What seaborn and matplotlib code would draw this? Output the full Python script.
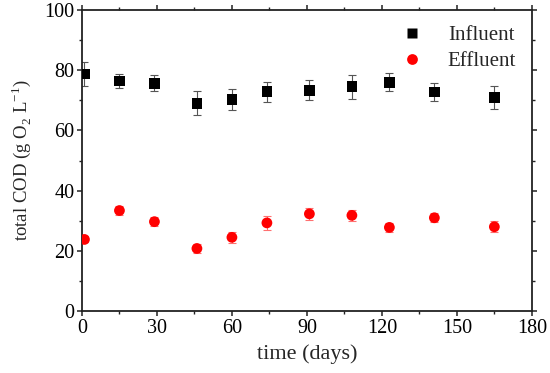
import matplotlib
matplotlib.use("Agg")
import matplotlib.pyplot as plt
import seaborn as sns
import pandas as pd
from matplotlib.ticker import MultipleLocator

days = [1, 15, 29, 46, 60, 74, 91, 108, 123, 141, 165]
influent = [78.8, 76.4, 75.7, 69.0, 70.3, 72.9, 73.4, 74.5, 76.0, 72.8, 71.0]
influent_err = [4.0, 2.3, 2.6, 4.0, 3.5, 3.3, 3.4, 4.0, 3.0, 3.0, 3.7]
effluent = [23.8, 33.4, 29.7, 20.8, 24.5, 29.3, 32.3, 31.8, 27.8, 31.0, 28.0]
effluent_err = [1.0, 1.6, 1.5, 1.6, 1.9, 2.3, 2.1, 1.8, 1.6, 1.5, 1.8]

df = pd.DataFrame({
    "day": days * 2,
    "cod": influent + effluent,
    "series": ["Influent"] * len(days) + ["Effluent"] * len(days),
})

sns.set_theme(style="ticks")
plt.rcParams["font.family"] = ["Liberation Serif", "DejaVu Serif"]
plt.rcParams["mathtext.fontset"] = "custom"
plt.rcParams["mathtext.rm"] = "Liberation Serif"

fig = plt.figure(figsize=(5.5, 3.73), dpi=100)
ax = fig.add_axes([0.149, 0.166, 0.818, 0.807])

ax.errorbar(days, influent, yerr=influent_err, fmt="none", ecolor="#555555",
            elinewidth=0.8, capsize=3, capthick=0.8, zorder=2)
ax.errorbar(days, effluent, yerr=effluent_err, fmt="none", ecolor="#ff7070",
            elinewidth=0.8, capsize=3, capthick=0.8, zorder=2)

sns.scatterplot(data=df, x="day", y="cod", hue="series", style="series",
                palette={"Influent": "black", "Effluent": "red"},
                markers={"Influent": "s", "Effluent": "o"},
                s=60, edgecolor="none", ax=ax, zorder=3)

ax.set_xlim(0, 180)
ax.set_ylim(0, 100)
ax.xaxis.set_major_locator(MultipleLocator(30))
ax.xaxis.set_minor_locator(MultipleLocator(15))
ax.yaxis.set_major_locator(MultipleLocator(20))
ax.yaxis.set_minor_locator(MultipleLocator(10))

for s in ax.spines.values():
    s.set_linewidth(1.3)
    s.set_color("#222222")
    s.set_visible(True)

ax.tick_params(which="major", direction="out", length=3.5, width=1.1,
               labelsize=14.5, colors="#222222", labelcolor="black")
ax.tick_params(which="minor", direction="out", length=2.5, width=1.0, colors="#222222")
ax.tick_params(which="both", top=True, right=True, labeltop=False, labelright=False)
ax.tick_params(axis="x", which="major", pad=2)
ax.tick_params(axis="y", which="major", pad=2)

ax.set_xlabel("time (days)", fontsize=16, labelpad=5)
ax.set_ylabel(r"total COD (g O$_2$ L$^{-1}$)", fontsize=13.5, labelpad=8)

leg = ax.legend(loc="upper right", frameon=False, fontsize=15, handletextpad=0.7,
                borderaxespad=0.35, labelspacing=0.3, markerscale=1.0)
leg.set_title(None)

fig.savefig("out.png", dpi=100)
